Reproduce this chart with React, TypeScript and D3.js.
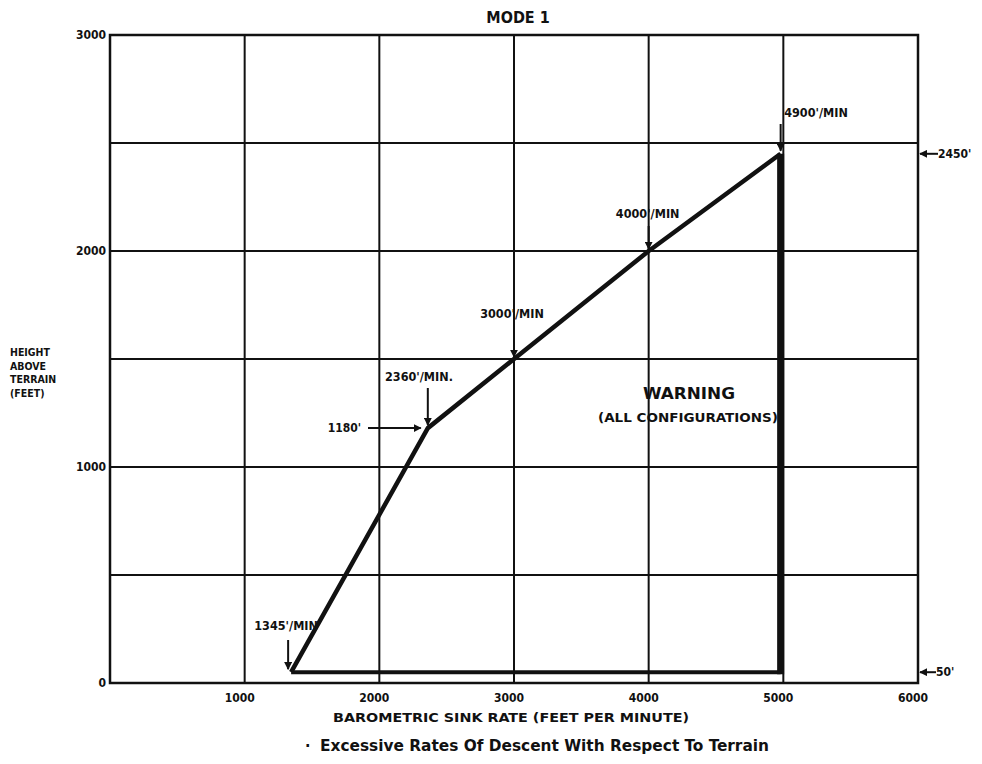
import React from "react";
import * as d3 from "d3";

// ---- data ----
const xTickValues = [1000, 2000, 3000, 4000, 5000, 6000];
const xGridValues = [1000, 2000, 3000, 4000, 5000];
const yTickValues = [0, 1000, 2000, 3000];
const yGridValues = [500, 1000, 1500, 2000, 2500];
const boundarySink = [1345, 2360, 3000, 4000, 4980];
const boundaryHeight = [50, 1180, 1500, 2000, 2450];
const floorHeight = 50;
const yTitleLines = ["HEIGHT", "ABOVE", "TERRAIN", "(FEET)"];

const W = 982;
const H = 764;
const FONT = "'DejaVu Sans Condensed', 'Liberation Sans Narrow', sans-serif";

export default function App() {
  const x = d3.scaleLinear().domain([0, 6000]).range([110, 918]);
  const y = d3.scaleLinear().domain([0, 3000]).range([683, 35]);

  const pts: [number, number][] = boundarySink.map((s, i) => [s, boundaryHeight[i]]);
  const line = d3
    .line<[number, number]>()
    .x((d) => x(d[0]))
    .y((d) => y(d[1]));

  const lastX = boundarySink[boundarySink.length - 1];
  const lastY = boundaryHeight[boundaryHeight.length - 1];
  const firstX = boundarySink[0];

  const lbl = { fontFamily: FONT, fontWeight: 700, fill: "#111" } as const;

  const Arrow = ({ x1, y1, x2, y2 }: { x1: number; y1: number; x2: number; y2: number }) => (
    <line x1={x1} y1={y1} x2={x2} y2={y2} stroke="#111" strokeWidth={2} markerEnd="url(#ah)" />
  );

  return (
    <svg width={W} height={H} style={{ position: "absolute", left: 0, top: 0, background: "#fff" }}>
      <defs>
        <marker id="ah" viewBox="0 0 10 10" refX="9" refY="5" markerWidth="4" markerHeight="4" orient="auto">
          <path d="M0,0 L10,5 L0,10 z" fill="#111" />
        </marker>
      </defs>
      <rect width={W} height={H} fill="#fff" />

      {/* grid */}
      {xGridValues.map((v) => (
        <line key={"gx" + v} x1={x(v)} x2={x(v)} y1={y(0)} y2={y(3000)} stroke="#111" strokeWidth={2} />
      ))}
      {yGridValues.map((v) => (
        <line key={"gy" + v} x1={x(0)} x2={x(6000)} y1={y(v)} y2={y(v)} stroke="#111" strokeWidth={2} />
      ))}
      {/* frame */}
      <rect x={x(0)} y={y(3000)} width={x(6000) - x(0)} height={y(0) - y(3000)} fill="none" stroke="#111" strokeWidth={2.5} />

      {/* boundary */}
      <path d={line(pts) || ""} fill="none" stroke="#111" strokeWidth={4.5} strokeLinejoin="round" />
      <line x1={x(firstX)} x2={x(lastX)} y1={y(floorHeight)} y2={y(floorHeight)} stroke="#111" strokeWidth={4} />
      <line x1={x(lastX)} x2={x(lastX)} y1={y(lastY)} y2={y(floorHeight) + 2} stroke="#111" strokeWidth={7} />

      {/* y tick labels */}
      {yTickValues.map((v) => (
        <text key={"yt" + v} x={x(0) - 4} y={y(v) + 4} textAnchor="end" fontSize={12} {...lbl}>
          {v}
        </text>
      ))}
      {/* x tick labels */}
      {xTickValues.map((v) => (
        <text key={"xt" + v} x={x(v) - 5} y={y(0) + 19} textAnchor="middle" fontSize={12} {...lbl}>
          {v}
        </text>
      ))}

      {/* titles */}
      <text x={518} y={23} textAnchor="middle" fontSize={16} {...lbl}>MODE 1</text>
      <text x={511} y={722} textAnchor="middle" fontSize={12} textLength={356} lengthAdjust="spacingAndGlyphs" {...lbl}>
        BAROMETRIC SINK RATE (FEET PER MINUTE)
      </text>
      <text x={305} y={751} fontSize={16} {...lbl}>·</text>
      <text x={320} y={751} fontSize={16} textLength={449} lengthAdjust="spacingAndGlyphs" {...lbl}>
        Excessive Rates Of Descent With Respect To Terrain
      </text>
      {yTitleLines.map((t, i) => (
        <text key={t} x={10} y={356 + i * 13.5} fontSize={10.5} {...lbl}>
          {t}
        </text>
      ))}

      {/* right side labels */}
      <Arrow x1={938} y1={y(lastY)} x2={920} y2={y(lastY)} />
      <text x={938} y={y(lastY) + 4} fontSize={12} {...lbl}>2450'</text>
      <Arrow x1={936} y1={y(floorHeight)} x2={920} y2={y(floorHeight)} />
      <text x={936} y={y(floorHeight) + 4} fontSize={12} {...lbl}>50'</text>

      {/* point annotations */}
      <text x={x(1345) - 5} y={630} textAnchor="middle" fontSize={12.5} {...lbl}>1345'/MIN</text>
      <Arrow x1={x(1345) - 3} y1={640} x2={x(1345) - 3} y2={y(floorHeight) - 3} />

      <text x={361} y={y(1180) + 4} textAnchor="end" fontSize={12} {...lbl}>1180'</text>
      <Arrow x1={368} y1={y(1180)} x2={x(2360) - 7} y2={y(1180)} />

      <text x={385} y={381} fontSize={12.5} {...lbl}>2360'/MIN.</text>
      <Arrow x1={x(2360)} y1={388} x2={x(2360)} y2={y(1180) - 3} />

      <text x={x(3000) - 2} y={318} textAnchor="middle" fontSize={12.5} {...lbl}>3000'/MIN</text>
      <Arrow x1={x(3000)} y1={326} x2={x(3000)} y2={y(1500) - 2} />

      <text x={x(4000) - 1} y={218} textAnchor="middle" fontSize={12.5} {...lbl}>4000'/MIN</text>
      <Arrow x1={x(4000)} y1={226} x2={x(4000)} y2={y(2000) - 2} />

      <text x={816} y={117} textAnchor="middle" fontSize={12.5} {...lbl}>4900'/MIN</text>
      <Arrow x1={x(lastX)} y1={124} x2={x(lastX)} y2={y(lastY) - 3} />

      <text x={689} y={399} textAnchor="middle" fontSize={15} textLength={92} lengthAdjust="spacingAndGlyphs" {...lbl}>WARNING</text>
      <text x={688} y={422} textAnchor="middle" fontSize={11.5} textLength={180} lengthAdjust="spacingAndGlyphs" {...lbl}>
        (ALL CONFIGURATIONS)
      </text>
    </svg>
  );
}
